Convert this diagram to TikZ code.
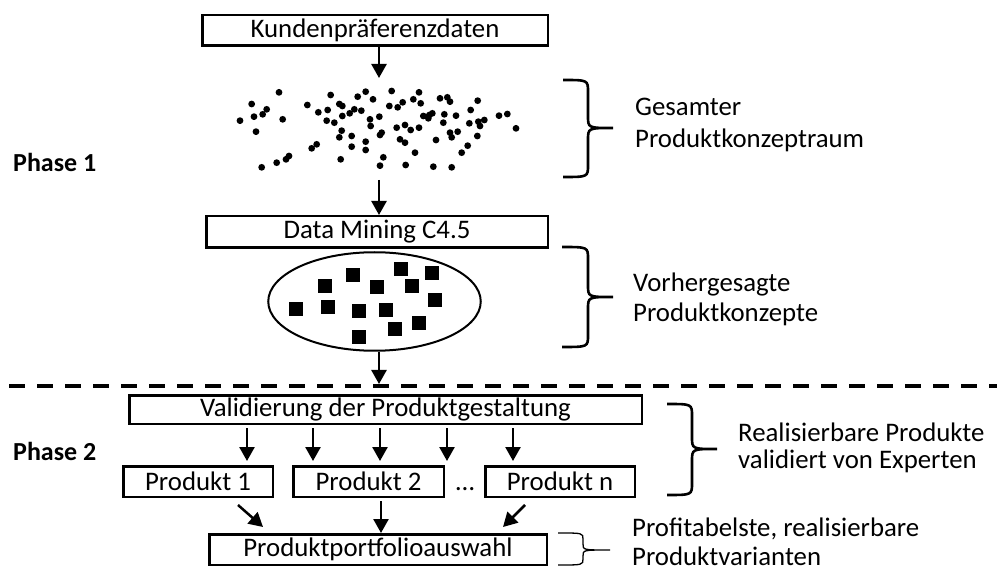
\documentclass[tikz,border=0pt]{standalone}
\usepackage{fontspec}
\setmainfont{Carlito}
\usetikzlibrary{arrows.meta,shapes.geometric}
\begin{document}
\begin{tikzpicture}[x=1pt,y=-1pt,
  every node/.style={font=\fontsize{26.8}{32}\selectfont},
  box/.style={draw,line width=2.5pt,inner sep=0pt,minimum height=30.5pt},
  arr/.style={line width=2.5pt,-{Triangle[width=15pt,length=14pt]}},
  lab/.style={anchor=base west,inner sep=0pt},
  phase/.style={anchor=base west,inner sep=0pt,font=\fontsize{26}{31}\selectfont\bfseries},
  brace/.style={line width=2.6pt},
  thinbrace/.style={line width=1.3pt},
  sq/.style={fill=black,minimum size=14pt,inner sep=0pt},
  divider/.style={line width=3.5pt,dash pattern=on 16pt off 12pt}
]
\useasboundingbox (0,0) rectangle (997,572);

% ---- phase 1 ----
\node[phase] (ph1) at (13,172) {Phase 1};
\node[box,minimum width=345.5pt] (kd) at (375,30.5) {Kundenpräferenzdaten};

% scattered customer preference points
\foreach \a/\b in {237/277,155/312,200/328,188/343,162/350,120/362,248/358,168/395,
  322/315,392/285,418/312,427/318,355/337,383/330,380/362,403/368,427/348,449/340,
  463/328,484/332,473/290,497/275,519/298,510/358,538/350,512/378,575/273,568/318,
  593/322,608/307,640/298,657/277,662/310,720/295,742/292,750/305,833/302,812/330,
  670/348,688/345,697/340,685/355,733/343,768/347,730/368,808/370,835/365,853/360,
  840/378,897/347,922/342,948/385,590/383,615/375,632/390,657/383,425/392,418/412,
  455/408,497/425,545/398,540/405,600/418,615/428,708/420,750/398,773/395,755/412,
  832/408,803/437,785/458,645/458,350/433,335/445,455/440,497/450,267/468,258/478,
  230/488,185/502,422/478,550/472,540/497,617/495,700/500,755/502}
  \fill ({200+\a/3},{\b/3}) circle[radius=3.4pt];

\coordinate (c1) at (379,78);
\coordinate (c2) at (379,180);
\draw[arr] (kd.south -| c1) -- (c1);

\node[box,minimum width=341.5pt,minimum height=31.5pt] (dm) at (377,232) {Data Mining C4.5};
\draw[arr] (c2) -- (c2 |- dm.north);

\node[draw,ellipse,line width=2pt,inner sep=0pt,minimum width=212.5pt,minimum height=98.5pt] (el) at (374.5,301.5) {};
\foreach \a/\b in {353.3/275,401/269,431.7/272.7,325.3/286,376.7/286.7,412/286,435/300,
  296.3/309.3,327.7/307.3,359/310.7,386/310,419/322.7,395/328.7,359/337}
  \node[sq] at (\a,\b) {};

% braces and their labels
\draw[brace] (563,80) .. controls (588,80) .. (588,92) -- (588,116) .. controls (588,128) .. (613,128)
  .. controls (588,128) .. (588,140) -- (588,165) .. controls (588,177) .. (563,177);
\node[lab] (g1) at (635,116) {Gesamter};
\node[lab] (g2) at (635,148) {Produktkonzeptraum};

\draw[brace] (562,247) .. controls (588,247) .. (588,259) -- (588,285) .. controls (588,297) .. (613,297)
  .. controls (588,297) .. (588,309) -- (588,335) .. controls (588,347) .. (562,347);
\node[lab] (v1) at (633,292) {Vorhergesagte};
\node[lab] (v2) at (633,322) {Produktkonzepte};

% ---- divider ----
\coordinate (dl) at (9,386);
\coordinate (dr) at (997,386);
\draw[divider] (dl) -- (dr);
\coordinate (c3) at (379,384);
\draw[arr] (c3 |- el.south) -- (c3);

% ---- phase 2 ----
\node[phase] (ph2) at (13,460) {Phase 2};
\node[box,minimum width=512.5pt,minimum height=28.5pt] (val) at (385.5,409.5) {Validierung der Produktgestaltung};

\node[box,minimum width=149.5pt] (p1) at (198,481.5) {Produkt 1};
\node[box,minimum width=150.5pt] (p2) at (368.5,481.5) {Produkt 2};
\node[box,minimum width=149.5pt] (pn) at (560,481.5) {Produkt n};
\node[anchor=base,inner sep=0pt] (ell) at (465,490) {…};

\foreach \x [count=\i] in {247,313,380,447,513}{
  \coordinate (t\i) at (\x,461);
  \draw[arr,shorten <=3pt] (val.south -| t\i) -- (t\i);
}

\node[box,minimum width=337.5pt] (pf) at (378,549.5) {Produktportfolioauswahl};

\coordinate (a1) at ([shift={(40,7)}]p1.south);
\coordinate (b1) at ([shift={(-115,-6)}]pf.north);
\draw[arr] (a1) -- (b1);
\coordinate (a2) at (381,501);
\draw[arr] (a2) -- (a2 |- pf.north);
\coordinate (a3) at ([shift={(-35,7)}]pn.south);
\coordinate (b3) at ([shift={(125,-6)}]pf.north);
\draw[arr] (a3) -- (b3);

\draw[brace] (667,404) .. controls (692,404) .. (692,416) -- (692,437) .. controls (692,449) .. (717,449)
  .. controls (692,449) .. (692,461) -- (692,483) .. controls (692,495) .. (667,495);
\node[lab] (r1) at (738,441) {Realisierbare Produkte};
\node[lab] (r2) at (738,468) {validiert von Experten};

\draw[thinbrace] (558,533) .. controls (583,533) .. (583,539) -- (583,544) .. controls (583,550) .. (610,550)
  .. controls (583,550) .. (583,556) -- (583,559) .. controls (583,565) .. (558,565);
\node[lab] (f1) at (632,536) {Profitabelste, realisierbare};
\node[lab] (f2) at (632,565) {Produktvarianten};
\end{tikzpicture}
\end{document}
